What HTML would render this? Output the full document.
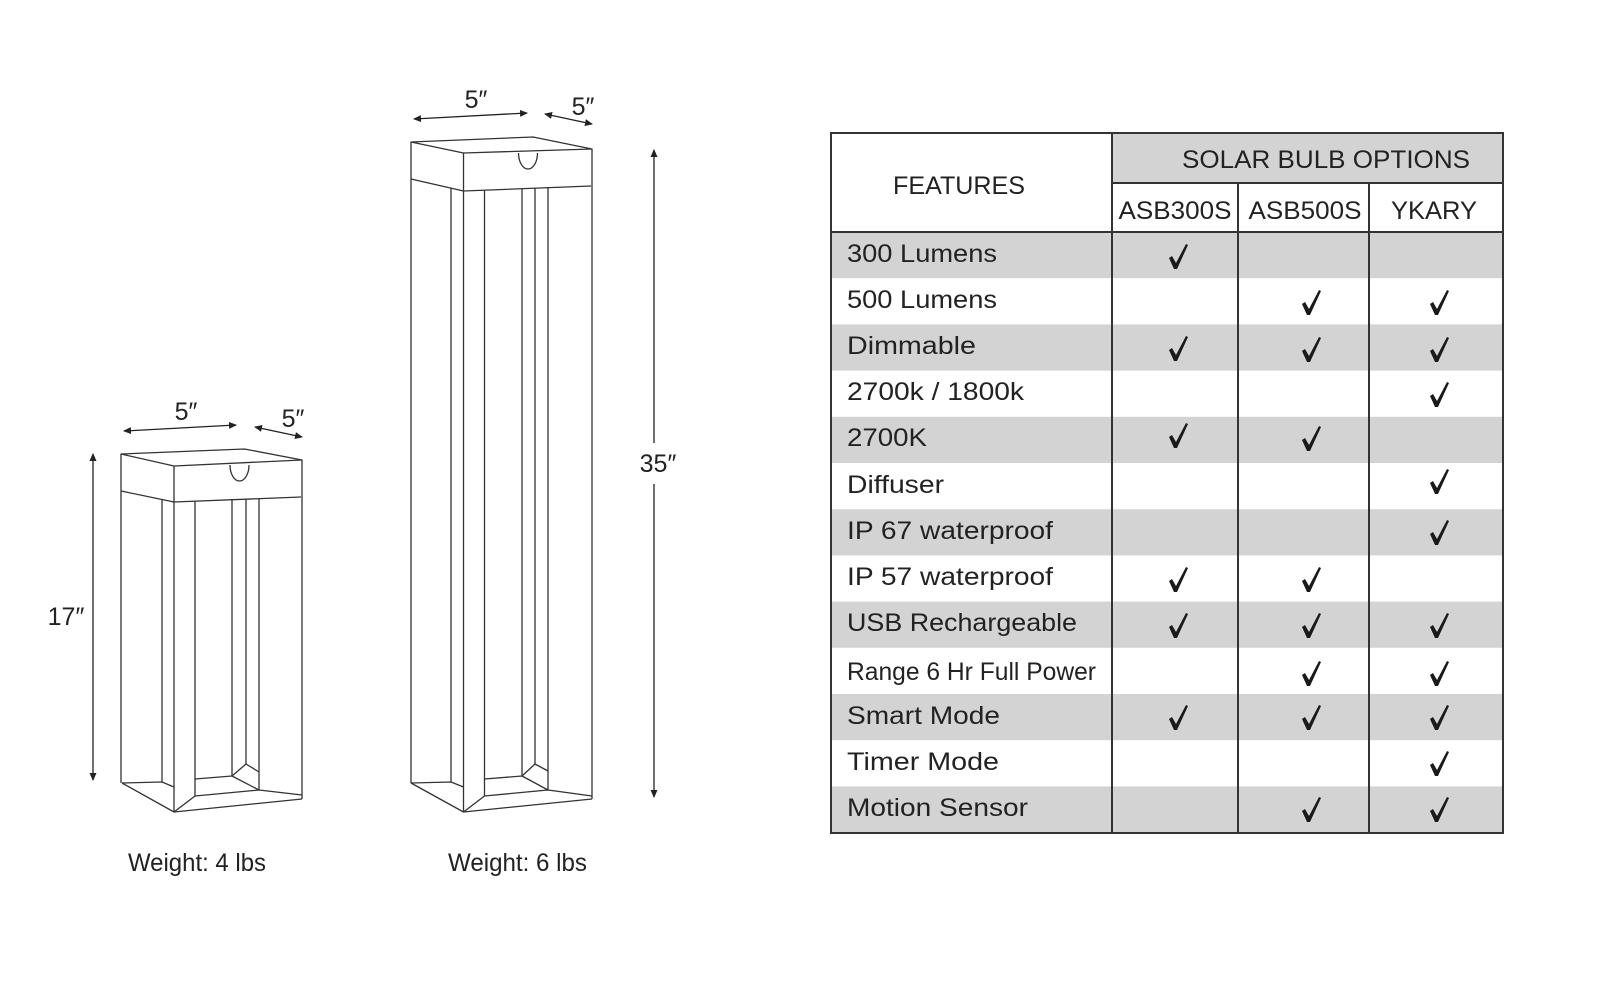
<!DOCTYPE html>
<html><head><meta charset="utf-8"><style>
html,body{margin:0;padding:0;background:#fff;}
svg{display:block;}
text{font-family:"Liberation Sans",sans-serif;fill:#222;}
</style></head><body>
<svg width="1624" height="986" viewBox="0 0 1624 986" xmlns="http://www.w3.org/2000/svg">
<defs>
<marker id="ah" markerWidth="8" markerHeight="8" refX="7" refY="4" orient="auto-start-reverse" markerUnits="userSpaceOnUse">
<path d="M0,0.5 L8,4 L0,7.5 Z" fill="#222"/></marker>
<path id="ck" d="M-9,1 L-6,-1 L-2,6 L8,-13 L10,-12 L-1,12 L-4,12 Z" fill="#1a1a1a"/>
</defs>

<!-- ========== small lamp ========== -->
<g fill="none" stroke="#333" stroke-width="1.3" stroke-linejoin="round">
<polygon points="121,454 244.5,449 302,460 174,466" />
<polyline points="121,454 121,783" />
<polyline points="174,466 174,812" />
<polyline points="302,460 302,799" />
<polyline points="121,491 174,502 301,497" />
<path d="M230,465 A9.5,16 0 0 0 249,465" />
<line x1="162" y1="499" x2="162" y2="782"/>
<line x1="195" y1="501" x2="195" y2="796"/>
<line x1="232" y1="499" x2="232" y2="776"/>
<line x1="246" y1="499" x2="246" y2="764"/>
<line x1="259" y1="498" x2="259" y2="790"/>
<polyline points="122,783 174,812 302,799"/>
<polyline points="122,783 162,782 174,787"/>
<line x1="174" y1="812" x2="195" y2="796"/>
<polyline points="195,796 259,790 302,795"/>
<polyline points="195,779 232,776 259,790"/>
<polyline points="232,776 246,764 259,772"/>
</g>

<!-- ========== tall lamp ========== -->
<g fill="none" stroke="#333" stroke-width="1.3" stroke-linejoin="round">
<polygon points="411,142 533,137 592,149 463.5,153" />
<line x1="411" y1="142" x2="411" y2="783"/>
<line x1="463.5" y1="153" x2="463.5" y2="812"/>
<line x1="592" y1="149" x2="592" y2="799"/>
<polyline points="411,179 463.5,191 591,186"/>
<path d="M518.5,153 A9.5,16 0 0 0 537.5,153" />
<line x1="451" y1="188" x2="451" y2="782"/>
<line x1="484.5" y1="190" x2="484.5" y2="796"/>
<line x1="522" y1="189" x2="522" y2="776"/>
<line x1="535" y1="188" x2="535" y2="764"/>
<line x1="548" y1="187" x2="548" y2="790"/>
<polyline points="411,783 463.5,812 592,799"/>
<polyline points="411,783 451,782 463.5,787"/>
<line x1="463.5" y1="812" x2="484.5" y2="796"/>
<polyline points="484.5,796 548,790 592,796"/>
<polyline points="484.5,779 522,776 548,790"/>
<polyline points="522,776 535,764 548,771"/>
</g>

<!-- ========== dimension arrows ========== -->
<g stroke="#222" stroke-width="1.3" fill="none">
<line x1="124" y1="431" x2="236" y2="425" marker-start="url(#ah)" marker-end="url(#ah)"/>
<line x1="255" y1="427" x2="302" y2="437" marker-start="url(#ah)" marker-end="url(#ah)"/>
<line x1="93" y1="454" x2="93" y2="780" marker-start="url(#ah)" marker-end="url(#ah)"/>
<line x1="414" y1="119" x2="527" y2="113" marker-start="url(#ah)" marker-end="url(#ah)"/>
<line x1="545" y1="114" x2="592" y2="124" marker-start="url(#ah)" marker-end="url(#ah)"/>
<line x1="654" y1="150" x2="654" y2="443" marker-start="url(#ah)"/>
<line x1="654" y1="484" x2="654" y2="797" marker-end="url(#ah)"/>
</g>
<g font-size="25">
<text x="186" y="420" text-anchor="middle">5″</text>
<text x="293" y="427" text-anchor="middle">5″</text>
<text x="476" y="108" text-anchor="middle">5″</text>
<text x="583" y="115" text-anchor="middle">5″</text>
<text x="66" y="625" text-anchor="middle">17″</text>
<text x="658" y="472" text-anchor="middle">35″</text>
<text x="128" y="871" textLength="138" lengthAdjust="spacingAndGlyphs">Weight: 4 lbs</text>
<text x="448" y="871" textLength="139" lengthAdjust="spacingAndGlyphs">Weight: 6 lbs</text>
</g>

<!-- ========== table ========== -->
<g>
<rect x="1112" y="133" width="391" height="50" fill="#d3d3d3"/>
<rect x="831" y="232" width="672" height="46.2" fill="#d3d3d3"/>
<rect x="831" y="324.4" width="672" height="46.2" fill="#d3d3d3"/>
<rect x="831" y="416.8" width="672" height="46.2" fill="#d3d3d3"/>
<rect x="831" y="509.2" width="672" height="46.2" fill="#d3d3d3"/>
<rect x="831" y="601.6" width="672" height="46.2" fill="#d3d3d3"/>
<rect x="831" y="694" width="672" height="46.2" fill="#d3d3d3"/>
<rect x="831" y="786.4" width="672" height="46.6" fill="#d3d3d3"/>
</g>
<g stroke="#333" stroke-width="2" fill="none">
<rect x="831" y="133" width="672" height="700"/>
<line x1="1112" y1="133" x2="1112" y2="833"/>
<line x1="1238" y1="183" x2="1238" y2="833"/>
<line x1="1369" y1="183" x2="1369" y2="833"/>
<line x1="1112" y1="183" x2="1503" y2="183"/>
<line x1="831" y1="232" x2="1503" y2="232"/>
</g>
<g font-size="25">
<text x="1326" y="168" text-anchor="middle" textLength="288" lengthAdjust="spacingAndGlyphs">SOLAR BULB OPTIONS</text>
<text x="959" y="194" text-anchor="middle" textLength="132" lengthAdjust="spacingAndGlyphs">FEATURES</text>
<text x="1175" y="219" text-anchor="middle" textLength="113" lengthAdjust="spacingAndGlyphs">ASB300S</text>
<text x="1305" y="219" text-anchor="middle" textLength="113" lengthAdjust="spacingAndGlyphs">ASB500S</text>
<text x="1434" y="219" text-anchor="middle" textLength="86" lengthAdjust="spacingAndGlyphs">YKARY</text>
</g>
<g font-size="25" lengthAdjust="spacingAndGlyphs">
<text x="847" y="262" textLength="150" lengthAdjust="spacingAndGlyphs">300 Lumens</text>
<text x="847" y="308" textLength="150" lengthAdjust="spacingAndGlyphs">500 Lumens</text>
<text x="847" y="354" textLength="129" lengthAdjust="spacingAndGlyphs">Dimmable</text>
<text x="847" y="400" textLength="177" lengthAdjust="spacingAndGlyphs">2700k / 1800k</text>
<text x="847" y="446" textLength="80" lengthAdjust="spacingAndGlyphs">2700K</text>
<text x="847" y="493" textLength="97" lengthAdjust="spacingAndGlyphs">Diffuser</text>
<text x="847" y="539" textLength="206" lengthAdjust="spacingAndGlyphs">IP 67 waterproof</text>
<text x="847" y="585" textLength="206" lengthAdjust="spacingAndGlyphs">IP 57 waterproof</text>
<text x="847" y="631" textLength="230" lengthAdjust="spacingAndGlyphs">USB Rechargeable</text>
<text x="847" y="680" textLength="249" lengthAdjust="spacingAndGlyphs">Range 6 Hr Full Power</text>
<text x="847" y="724" textLength="153" lengthAdjust="spacingAndGlyphs">Smart Mode</text>
<text x="847" y="770" textLength="152" lengthAdjust="spacingAndGlyphs">Timer Mode</text>
<text x="847" y="816" textLength="181" lengthAdjust="spacingAndGlyphs">Motion Sensor</text>
</g>
<g>
<!-- row centers: 257,303,349,395,441,488,534,580,626,672,718,765,811 -->
<use href="#ck" x="1178" y="257"/>
<use href="#ck" x="1311" y="303"/><use href="#ck" x="1439" y="303"/>
<use href="#ck" x="1178" y="349"/><use href="#ck" x="1311" y="350"/><use href="#ck" x="1439" y="350"/>
<use href="#ck" x="1439" y="395"/>
<use href="#ck" x="1178" y="436"/><use href="#ck" x="1311" y="439"/>
<use href="#ck" x="1439" y="482"/>
<use href="#ck" x="1439" y="533"/>
<use href="#ck" x="1178" y="580"/><use href="#ck" x="1311" y="580"/>
<use href="#ck" x="1178" y="626"/><use href="#ck" x="1311" y="626"/><use href="#ck" x="1439" y="626"/>
<use href="#ck" x="1311" y="674"/><use href="#ck" x="1439" y="674"/>
<use href="#ck" x="1178" y="718"/><use href="#ck" x="1311" y="718"/><use href="#ck" x="1439" y="718"/>
<use href="#ck" x="1439" y="764"/>
<use href="#ck" x="1311" y="810"/><use href="#ck" x="1439" y="810"/>
</g>
</svg>
</body></html>
